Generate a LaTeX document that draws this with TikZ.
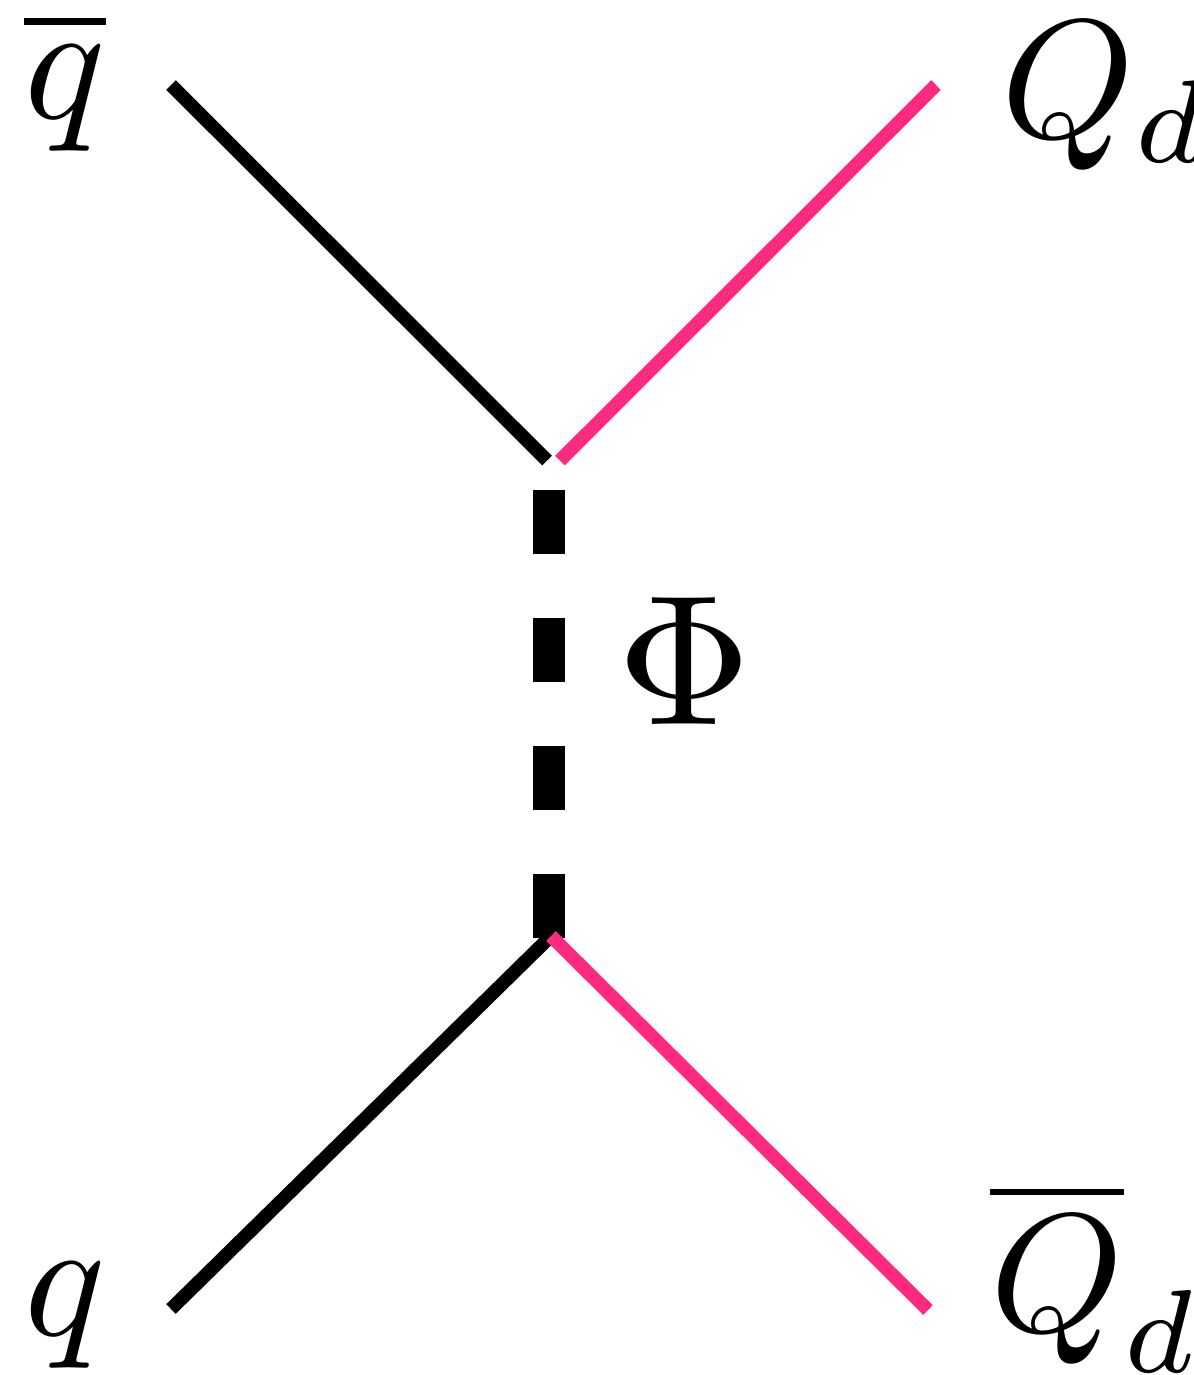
\documentclass[tikz,border=0pt]{standalone}
\usepackage{xcolor}
\definecolor{quarkpink}{HTML}{FF2A80}
\usetikzlibrary{
  positioning,
  calc
}
\begin{document}
\begin{tikzpicture}[
  x=0.01cm,
  y=-0.01cm,
  every node/.style={
    scale=4.8,
    inner sep=0pt,
    anchor=base
  },
  light/.style={
    line width=0.135cm,
    color=black
  },
  heavy/.style={
    line width=0.135cm,
    color=quarkpink
  },
  mediator/.style={
    line width=0.32cm,
    dash pattern=on 0.64cm off 0.64cm,
    color=black
  }
]
\useasboundingbox (0,0) rectangle (1193,1375);

% Vertices
\coordinate (topleft) at (547,460.5);
\coordinate (topright) at (560,460.5);
\coordinate (phitop) at (549,490);
\coordinate (phibottom) at (549,938);
\coordinate (bottom) at (551,936);

% Outer ends
\coordinate (qbarend) at (171,85);
\coordinate (Qdend) at (936,85);
\coordinate (qend) at (171,1309);
\coordinate (Qbarend) at (928,1310);

% Labels
\node (qbar) at (65,118) {$\overline{q}$};
\node[anchor=base west] (Qd) at (998,137) {$Q_d$};
\node[scale=1.1] (phi) at (685,724) {$\Phi$};
\node (q) at (65,1335) {$q$};
\node[anchor=base west] (Qbar) at (987,1331) {$\overline{Q}_d$};

% Lines
\draw[mediator] (phitop) -- (phibottom);
\draw[light] (qbarend) -- (topleft);
\draw[heavy] (Qdend) -- (topright);
\draw[light] (qend) -- (bottom);
\draw[heavy] (bottom) -- (Qbarend);

\end{tikzpicture}
\end{document}
